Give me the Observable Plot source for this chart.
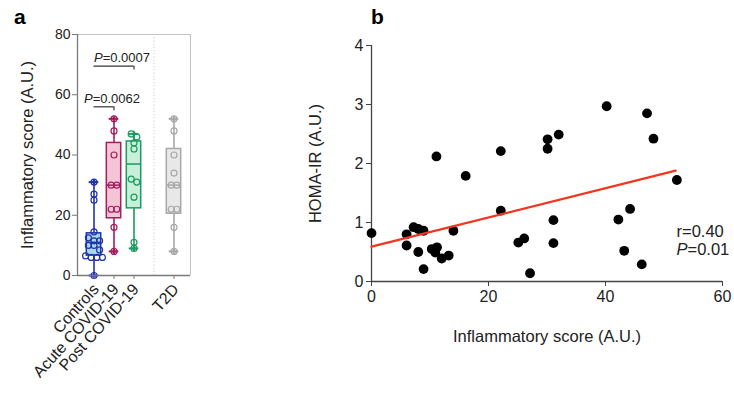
<!DOCTYPE html>
<html><head><meta charset="utf-8">
<script src="https://cdn.jsdelivr.net/npm/d3@7"></script>
<script src="https://cdn.jsdelivr.net/npm/@observablehq/plot@0.6"></script>
<style>
body{margin:0;background:#fff;font-family:"Liberation Sans",Arial,sans-serif;}
#wrap{position:relative;width:734px;height:393px;overflow:hidden;background:#fff}
.panel{position:absolute;top:0}
.tag{position:absolute;font-weight:bold;font-size:21px;line-height:1;color:#000}
#pa g[aria-label="y-axis tick label"] text{font-size:14px !important}
#pa g[aria-label="x-axis tick label"] text{font-size:16px !important}
#pa g[aria-label="y-axis label"] text{font-size:16.5px !important}
#pa g[aria-label="text"] text{font-size:13px !important}
#pb g[aria-label="x-axis tick label"] text,
#pb g[aria-label="y-axis tick label"] text{font-size:16px !important}
#pb g[aria-label="x-axis label"] text,
#pb g[aria-label="y-axis label"] text{font-size:16.5px !important}
#pb g[aria-label="text"] text{font-size:16.5px !important}
</style></head><body>
<div id="wrap">
  <div id="pa" class="panel" style="left:0"></div>
  <div id="pb" class="panel" style="left:240px"></div>
  <div class="tag" style="left:14px;top:6px">a</div>
  <div class="tag" style="left:371px;top:6px">b</div>
</div>
<script>
// ---------- Panel a data ----------
const groups = ["Controls", "Acute COVID-19", "Post COVID-19", "T2D"];
const separatorBefore = "T2D";
const boxMin = [0, 8, 9, 8];
const boxQ1  = [6.6, 19, 22.3, 20.5];
const boxMed = [11, 30, 37, 30];
const boxQ3  = [14, 44, 44.5, 42];
const boxMax = [31, 52, 47, 52];
const controlsPts = [31, 27, 25, 14.5, 12.5, 11.5, 11.5, 10, 10, 8.5, 6.5, 6, 6, 6, 0];
const acutePts    = [52, 48, 40, 30, 30, 22, 22, 16, 8];
const postPts     = [47, 46, 44, 42, 32, 31, 26, 11, 9];
const t2dPts      = [52, 48, 40, 34, 30, 30, 22, 22, 16, 8];
const groupStroke = ["#2233a8", "#a51d5c", "#1e9a5e", "#a8a8a8"];
const groupFill   = ["#a6d7f1", "#f3c5d6", "#c8efd9", "#e8e8e8"];
const pLabels  = ["P=0.0062", "P=0.0007"];
const pFrom    = ["Controls", "Controls"];
const pTo      = ["Acute COVID-19", "Post COVID-19"];
const pLevel   = [56, 69.5];
const yTicksA  = [0, 20, 40, 60, 80];

// ---------- Panel b data ----------
const scoreX = [0, 6, 6, 7.2, 8, 8.9, 8, 10.3, 11.2, 10.9, 12, 13.2, 8.9, 14, 11.1, 16.1, 22.1, 22.1, 25.1, 26.1, 27.1, 30.1, 30.1, 32, 31.1, 31.1, 40.2, 47.1, 48.2, 52.2, 42.2, 44.2, 43.2, 46.2];
const homaY  = [0.82, 0.80, 0.61, 0.92, 0.89, 0.86, 0.50, 0.55, 0.58, 0.49, 0.39, 0.44, 0.21, 0.86, 2.12, 1.79, 2.21, 1.20, 0.66, 0.73, 0.14, 2.41, 2.25, 2.49, 1.04, 0.65, 2.97, 2.85, 2.42, 1.72, 1.05, 1.23, 0.52, 0.29];
const fitX = [0, 52];
const fitY = [0.59, 1.88];
const xTicksB = [0, 20, 40, 60];
const yTicksB = [0, 1, 2, 3, 4];
const statText = ["r=0.40", "P=0.01"];

// ---------- Build panel a ----------
const sepIndex = groups.indexOf(separatorBefore);
const slots = groups.map((g, i) => i >= sepIndex ? i + 1 : i);
const sepSlot = sepIndex;
const nSlots = groups.length + 1;
const pad = 0.825;
const xDom = [-pad, nSlots - 1 + pad];
const slotName = new Map(groups.map((g, i) => [slots[i], g]));

const boxes = groups.map((g, i) => ({g, slot: slots[i], min: boxMin[i], q1: boxQ1[i], med: boxMed[i], q3: boxQ3[i], max: boxMax[i], stroke: groupStroke[i], fill: groupFill[i]}));

function spread(vals, i) {
  const sorted = vals.slice().sort((a, b) => b - a);
  const out = []; let cl = [];
  const flush = () => { const n = cl.length; cl.forEach((v, k) => out.push({x: slots[i] + (k - (n - 1) / 2) * 0.28, y: v, stroke: groupStroke[i]})); cl = []; };
  for (const v of sorted) { if (cl.length && cl[0] - v > 1.5) flush(); cl.push(v); }
  flush();
  return out;
}
const pts = [controlsPts, acutePts, postPts, t2dPts].flatMap((v, i) => spread(v, i));
const brackets = pLabels.map((t, i) => ({t, x1: slots[groups.indexOf(pFrom[i])], x2: slots[groups.indexOf(pTo[i])], y: pLevel[i]}));

const hw = 0.36, cw = 0.24;
const font = '"Liberation Sans", Arial, sans-serif';
const plotA = Plot.plot({
  width: 240, height: 393,
  marginLeft: 77, marginRight: 50, marginTop: 34, marginBottom: 118,
  style: {fontFamily: font, fontSize: "14px", color: "#222", background: "transparent"},
  x: {domain: xDom},
  y: {domain: [0, 80]},
  color: {type: "identity"},
  marks: [
    Plot.ruleY([80], {stroke: "#c4c4c4"}),
    Plot.ruleX([xDom[1]], {stroke: "#c4c4c4"}),
    Plot.ruleX([sepSlot], {stroke: "#c8c8c8", strokeDasharray: "1.2,2"}),
    Plot.ruleX(boxes, {x: "slot", y1: "min", y2: "max", stroke: "stroke", strokeWidth: 1.6}),
    Plot.ruleY(boxes, {y: "min", x1: d => d.slot - cw, x2: d => d.slot + cw, stroke: "stroke", strokeWidth: 2}),
    Plot.ruleY(boxes, {y: "max", x1: d => d.slot - cw, x2: d => d.slot + cw, stroke: "stroke", strokeWidth: 2}),
    Plot.dot(boxes, {x: "slot", y: "min", r: 2.2, fill: "stroke", symbol: "diamond"}),
    Plot.dot(boxes, {x: "slot", y: "max", r: 2.2, fill: "stroke", symbol: "diamond"}),
    Plot.rect(boxes, {x1: d => d.slot - hw, x2: d => d.slot + hw, y1: "q1", y2: "q3", fill: "fill", stroke: "stroke", strokeWidth: 1.5}),
    Plot.ruleY(boxes, {y: "med", x1: d => d.slot - hw, x2: d => d.slot + hw, stroke: "stroke", strokeWidth: 1.5}),
    Plot.dot(pts, {x: "x", y: "y", r: 3, stroke: "stroke", fill: "none", strokeWidth: 1.2}),
    Plot.ruleY(brackets, {y: "y", x1: "x1", x2: "x2", stroke: "#333", strokeWidth: 1.2}),
    Plot.ruleX(brackets, {x: "x2", y1: d => d.y - 1.3, y2: "y", stroke: "#333", strokeWidth: 1.2}),
    Plot.text(brackets, {x: d => (d.x1 + d.x2) / 2, y: "y", text: "t", lineAnchor: "bottom", dy: -4, dx: 8, fill: "#222"}),
    Plot.ruleX([xDom[0]], {stroke: "#7a7a7a", strokeWidth: 1.3}),
    Plot.ruleY([0], {stroke: "#7a7a7a", strokeWidth: 1.3}),
    Plot.axisY({ticks: yTicksA, tickSize: 5, tickPadding: 2, stroke: "#7a7a7a", label: "Inflammatory score (A.U.)", labelAnchor: "center", labelArrow: "none", labelOffset: 56}),
    Plot.axisX({ticks: slots, tickFormat: () => "", tickSize: 4, stroke: "#7a7a7a", label: null}),
    Plot.axisX({ticks: slots, tickFormat: s => slotName.get(s), tickRotate: -48, tickSize: 0, tickPadding: 6, dx: 2, dy: 5, label: null})
  ]
});
document.getElementById("pa").appendChild(plotA);

// ---------- Build panel b ----------
const scatter = scoreX.map((x, i) => ({x, y: homaY[i]}));
const fit = fitX.map((x, i) => ({x, y: fitY[i]}));
const plotB = Plot.plot({
  width: 494, height: 393,
  marginLeft: 131, marginRight: 12, marginTop: 45, marginBottom: 112,
  style: {fontFamily: font, fontSize: "16px", color: "#222", background: "transparent"},
  x: {domain: [0, 60]},
  y: {domain: [0, 4]},
  marks: [
    Plot.ruleX([0], {stroke: "#444", strokeWidth: 1.3}),
    Plot.ruleY([0], {stroke: "#444", strokeWidth: 1.3}),
    Plot.dot(scatter, {x: "x", y: "y", r: 4.9, fill: "#000"}),
    Plot.line(fit, {x: "x", y: "y", stroke: "#f2361d", strokeWidth: 2.2}),
    Plot.text(statText, {frameAnchor: "right", y: (d, i) => [0.84, 0.54][i], textAnchor: "start", dx: -46, fill: "#222"}),
    Plot.axisX({ticks: xTicksB, tickFormat: "d", tickSize: 5, tickPadding: 4, stroke: "#444", label: "Inflammatory score (A.U.)", labelAnchor: "center", labelArrow: "none", labelOffset: 60}),
    Plot.axisY({ticks: yTicksB, tickFormat: "d", tickSize: 5, tickPadding: 3, stroke: "#444", label: "HOMA-IR (A.U.)", labelAnchor: "center", labelArrow: "none", labelOffset: 62})
  ]
});
document.getElementById("pb").appendChild(plotB);

// italic "P" in p-value labels
document.querySelectorAll("#wrap svg text").forEach(t => {
  if (t.children.length === 0 && /^P=/.test(t.textContent)) {
    const rest = t.textContent.slice(1);
    t.textContent = "";
    const ns = "http://www.w3.org/2000/svg";
    const a = document.createElementNS(ns, "tspan"); a.setAttribute("font-style", "italic"); a.textContent = "P";
    const b = document.createElementNS(ns, "tspan"); b.textContent = rest;
    t.appendChild(a); t.appendChild(b);
  }
});
</script>
</body></html>
